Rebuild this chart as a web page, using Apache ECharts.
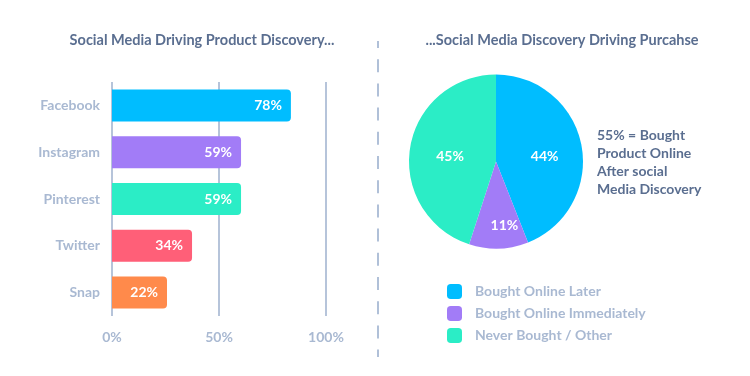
<!DOCTYPE html>
<html>
<head>
<meta charset="utf-8">
<script src="https://cdn.jsdelivr.net/npm/echarts@6/dist/echarts.min.js"></script>
<style>
    html, body { margin: 0; padding: 0; background: #fff; }
    #chart { width: 750px; height: 376px; }
</style>
</head>
<body>
<div id="chart"></div>
<script>
    // left: bar chart
    var platforms = ['Facebook', 'Instagram', 'Pinterest', 'Twitter', 'Snap'];
    var barValues = [83.6, 60.3, 60.3, 37.4, 25.7];   // bar lengths as drawn
    var barLabels = ['78%', '59%', '59%', '34%', '22%'];
    var barColors = ['#00bdff', '#a27cf7', '#2bedc6', '#ff5f78', '#ff8a4b'];
    var xTicks = [0, 50, 100];

    // right: pie chart
    var pieNames = ['Bought Online Later', 'Bought Online Immediately', 'Never Bought / Other'];
    var pieValues = [44, 11, 45];
    var pieColors = ['#00bdff', '#a27cf7', '#2bedc6'];

    var note = ['55% = Bought', 'Product Online', 'After social', 'Media Discovery'];

    var font = 'Lato';
    var dark = '#5a6e90';
    var light = '#a9b9d2';

    // shift of inside pie labels (px)
    var labelShift = [[3, 4], [7, 18], [0, 2]];

    var myChart = echarts.init(document.getElementById('chart'));
    myChart.setOption({
        animation: false,
        textStyle: { fontFamily: font },
        title: [
            {
                text: 'Social Media Driving Product Discovery...',
                left: 197, top: 28, textAlign: 'center',
                textStyle: { color: dark, fontSize: 14.5, fontWeight: 'bold', fontFamily: font }
            },
            {
                text: '...Social Media Discovery Driving Purcahse',
                left: 557, top: 28, textAlign: 'center',
                textStyle: { color: dark, fontSize: 14.5, fontWeight: 'bold', fontFamily: font }
            }
        ],
        grid: { left: 112, right: 424, top: 82, bottom: 60 },
        xAxis: {
            type: 'value',
            min: 0, max: 100, interval: 50,
            axisLine: { show: false },
            axisTick: { show: false },
            splitLine: { lineStyle: { color: '#b6c4da', width: 2 } },
            axisLabel: {
                color: light, fontSize: 14, fontWeight: 'bold', margin: 14,
                formatter: function (v) { return xTicks.indexOf(v) > -1 ? v + '%' : ''; }
            }
        },
        yAxis: {
            type: 'category',
            inverse: true,
            data: platforms,
            axisLine: { show: false },
            axisTick: { show: false },
            axisLabel: { color: light, fontSize: 14, fontWeight: 'bold', margin: 12 }
        },
        legend: {
            orient: 'vertical',
            left: 447, top: 284,
            padding: 0,
            itemWidth: 15, itemHeight: 15, itemGap: 7,
            icon: 'roundRect',
            data: pieNames,
            textStyle: { color: light, fontSize: 14, fontWeight: 'bold', padding: [0, 0, 0, 8] }
        },
        series: [
            {
                type: 'bar',
                barWidth: 32,
                z: 3,
                data: barValues.map(function (v, i) {
                    return { value: v, itemStyle: { color: barColors[i], borderRadius: [0, 4, 4, 0] } };
                }),
                label: {
                    show: true,
                    position: 'insideRight',
                    distance: 9,
                    color: '#fff',
                    fontSize: 14,
                    fontWeight: 'bold',
                    formatter: function (p) { return barLabels[p.dataIndex]; }
                }
            },
            {
                type: 'pie',
                center: [496, 161.5],
                radius: 87,
                startAngle: 90,
                clockwise: true,
                data: pieValues.map(function (v, i) {
                    return { value: v, name: pieNames[i], itemStyle: { color: pieColors[i] } };
                }),
                label: {
                    show: true,
                    position: 'inside',
                    color: '#fff',
                    fontSize: 14,
                    fontWeight: 'bold',
                    formatter: '{c}%'
                },
                labelLayout: function (p) {
                    var s = labelShift[p.dataIndex];
                    return { dx: s[0], dy: s[1] };
                },
                emphasis: { disabled: true }
            }
        ],
        graphic: [
            {
                type: 'line',
                shape: { x1: 378, y1: 41, x2: 378, y2: 357 },
                style: { stroke: '#b0c0d8', lineWidth: 2, lineDash: [13, 11.2], lineDashOffset: 6 }
            },
            {
                type: 'text',
                left: 597, top: 126,
                style: {
                    text: note.join('\n'),
                    fill: dark,
                    font: 'bold 14px ' + font,
                    lineHeight: 18
                }
            }
        ]
    });
</script>
</body>
</html>
